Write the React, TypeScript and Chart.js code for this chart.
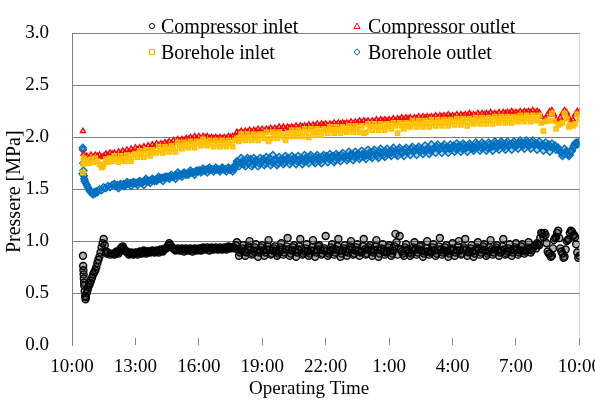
import React, { useEffect, useRef } from "react";
import { Chart, registerables } from "chart.js";

Chart.register(...registerables);

// ---- categories / labels ----
const SERIES_NAMES = ["Compressor inlet", "Compressor outlet", "Borehole inlet", "Borehole outlet"];
const SERIES_COLORS = ["#000000", "#ff0000", "#ffc000", "#0070c0"];
const SERIES_FILLS = ["rgba(0,0,0,0.3)", "rgba(255,0,0,0.25)", "rgba(255,192,0,0.8)", "rgba(0,112,192,0.35)"];
const Y_TITLE = "Pressere [MPa]";
const X_TITLE = "Operating Time";
const START_CLOCK_HOUR = 10; // x = hours elapsed since 10:00
const X_MAX_HOURS = 24;
const X_TICK_STEP_HOURS = 3;
const Y_MIN = 0;
const Y_MAX = 3;
const Y_TICK_STEP = 0.5;

// regular logging grids (hours since 10:00)
const GRID_START_HOUR = 2.0; // *Main arrays: 2.0, 2.1, ... 24.0
const GRID_MID_START_HOUR = 2.05; // *Mid arrays: 2.05, 2.15, ... 23.95
const GRID_STEP_HOUR = 0.1;

// ---- start-up transient (irregular times) ----
const compInletStartHours = [0.52, 0.53, 0.54, 0.55, 0.56, 0.57, 0.58, 0.60, 0.62, 0.64, 0.66, 0.70, 0.74, 0.78, 0.82, 0.86, 0.90, 0.95, 1.00, 1.05, 1.10, 1.15, 1.20, 1.25, 1.30, 1.35, 1.40, 1.45, 1.50, 1.55, 1.60, 1.65, 1.70, 1.80, 1.90];
const compInletStartValues = [0.86, 0.76, 0.72, 0.68, 0.64, 0.60, 0.57, 0.52, 0.47, 0.44, 0.46, 0.50, 0.53, 0.56, 0.58, 0.60, 0.62, 0.65, 0.68, 0.70, 0.72, 0.75, 0.79, 0.82, 0.85, 0.89, 0.94, 0.98, 1.02, 0.96, 0.90, 0.88, 0.89, 0.87, 0.88];

const compOutletStartHours = [0.52, 0.55, 0.60, 0.70, 0.80, 0.90, 1.00, 1.10, 1.20, 1.30, 1.40, 1.50, 1.60, 1.70, 1.80, 1.90];
const compOutletStartValues = [2.06, 1.84, 1.80, 1.82, 1.80, 1.83, 1.81, 1.83, 1.82, 1.83, 1.81, 1.82, 1.84, 1.83, 1.85, 1.84];

const boreInletStartHours = [0.52, 0.53, 0.55, 0.60, 0.70, 0.80, 0.90, 1.00, 1.10, 1.20, 1.30, 1.40, 1.45, 1.50, 1.60, 1.70, 1.80, 1.90];
const boreInletStartValues = [1.66, 1.74, 1.80, 1.77, 1.78, 1.75, 1.79, 1.76, 1.80, 1.77, 1.74, 1.71, 1.72, 1.74, 1.79, 1.76, 1.80, 1.77];

const boreOutletStartHours = [0.50, 0.51, 0.52, 0.53, 0.54, 0.56, 0.58, 0.60, 0.65, 0.70, 0.75, 0.80, 0.85, 0.90, 0.95, 1.00, 1.05, 1.10, 1.15, 1.20, 1.30, 1.40, 1.50, 1.60, 1.70, 1.80, 1.90];
const boreOutletStartValues = [1.65, 1.90, 1.88, 1.75, 1.68, 1.63, 1.60, 1.58, 1.56, 1.54, 1.52, 1.50, 1.48, 1.47, 1.46, 1.45, 1.47, 1.46, 1.48, 1.47, 1.50, 1.49, 1.52, 1.51, 1.53, 1.52, 1.54];

// ---- main logging (2.0 h .. 24.0 h, one row per hour) ----
const compInletMain = [
  0.87, 0.90, 0.88, 0.93, 0.95, 0.91, 0.90, 0.87, 0.89, 0.87,
  0.89, 0.87, 0.90, 0.88, 0.91, 0.88, 0.90, 0.89, 0.91, 0.89,
  0.91, 0.89, 0.92, 0.90, 0.93, 0.94, 0.98, 0.94, 0.93, 0.91,
  0.93, 0.91, 0.93, 0.90, 0.93, 0.91, 0.93, 0.90, 0.93, 0.91,
  0.93, 0.91, 0.94, 0.92, 0.94, 0.91, 0.94, 0.92, 0.94, 0.92,
  0.94, 0.92, 0.94, 0.92, 0.95, 0.93, 0.94, 0.93, 0.99, 0.86,
  0.91, 0.96, 0.86, 0.92, 1.00, 0.87, 0.90, 0.97, 0.85, 0.91,
  0.96, 0.86, 0.92, 1.01, 0.87, 0.91, 0.95, 0.86, 0.90, 0.98,
  0.87, 0.92, 1.03, 0.86, 0.91, 0.96, 0.85, 0.92, 1.02, 0.87,
  0.90, 0.97, 0.86, 0.91, 1.01, 0.85, 0.92, 0.96, 0.87, 0.91,
  1.05, 0.86, 0.90, 0.97, 0.87, 0.92, 1.02, 0.85, 0.91, 0.96,
  0.86, 0.92, 1.00, 0.87, 0.91, 0.97, 0.86, 0.90, 1.02, 0.87,
  0.92, 0.96, 0.86, 0.91, 1.01, 0.85, 0.92, 0.97, 0.87, 0.90,
  0.96, 0.86, 0.91, 1.07, 0.87, 1.05, 0.90, 0.86, 0.97, 0.92,
  0.86, 0.91, 0.99, 0.87, 0.92, 0.96, 0.85, 0.90, 1.00, 0.87,
  0.91, 0.97, 0.86, 0.92, 1.03, 0.87, 0.91, 0.96, 0.85, 0.92,
  0.98, 0.86, 0.91, 1.00, 0.87, 0.92, 1.02, 0.86, 0.90, 0.96,
  0.85, 0.91, 0.99, 0.87, 0.92, 0.97, 0.86, 0.90, 1.01, 0.87,
  0.92, 0.96, 0.86, 0.91, 1.02, 0.87, 0.90, 0.97, 0.86, 0.92,
  0.98, 0.87, 0.91, 0.97, 0.88, 0.92, 0.99, 0.89, 0.93, 0.96,
  0.98, 0.96, 1.08, 1.04, 1.06, 0.90, 0.88, 0.86, 1.01, 1.04,
  1.10, 0.93, 0.88, 0.85, 1.00, 1.02, 1.10, 1.05, 1.04, 0.89,
  0.86,
];
const compInletMid = [
  0.88, 0.89, 0.90, 0.94, 0.93, 0.90, 0.88, 0.88, 0.88, 0.88,
  0.88, 0.89, 0.89, 0.89, 0.90, 0.89, 0.90, 0.90, 0.90, 0.90,
  0.90, 0.91, 0.91, 0.92, 0.93, 0.96, 0.96, 0.94, 0.92, 0.92,
  0.92, 0.92, 0.92, 0.92, 0.92, 0.92, 0.92, 0.92, 0.92, 0.92,
  0.92, 0.93, 0.93, 0.93, 0.93, 0.93, 0.93, 0.93, 0.93, 0.93,
  0.93, 0.93, 0.93, 0.94, 0.94, 0.94, 0.94, 0.96, 0.92, 0.89,
  0.93, 0.90, 0.89, 0.95, 0.92, 0.88, 0.94, 0.91, 0.89, 0.94,
  0.91, 0.89, 0.95, 0.92, 0.88, 0.93, 0.90, 0.88, 0.94, 0.92,
  0.89, 0.95, 0.92, 0.88, 0.94, 0.91, 0.89, 0.95, 0.92, 0.88,
  0.93, 0.90, 0.88, 0.94, 0.91, 0.89, 0.95, 0.92, 0.88, 0.93,
  0.91, 0.88, 0.94, 0.92, 0.89, 0.95, 0.91, 0.88, 0.93, 0.90,
  0.89, 0.95, 0.92, 0.88, 0.94, 0.91, 0.89, 0.95, 0.92, 0.88,
  0.94, 0.91, 0.89, 0.95, 0.92, 0.88, 0.93, 0.90, 0.89, 0.94,
  0.91, 0.88, 0.95, 0.99, 0.93, 0.92, 0.88, 0.94, 0.91, 0.89,
  0.88, 0.94, 0.92, 0.89, 0.95, 0.91, 0.88, 0.93, 0.90, 0.89,
  0.94, 0.91, 0.88, 0.95, 0.92, 0.89, 0.94, 0.90, 0.88, 0.93,
  0.92, 0.89, 0.95, 0.91, 0.88, 0.94, 0.92, 0.89, 0.93, 0.90,
  0.88, 0.94, 0.92, 0.89, 0.95, 0.91, 0.88, 0.94, 0.92, 0.89,
  0.94, 0.91, 0.89, 0.95, 0.92, 0.88, 0.93, 0.91, 0.89, 0.94,
  0.92, 0.89, 0.95, 0.91, 0.90, 0.94, 0.92, 0.91, 0.95, 0.93,
  0.97, 1.03, 1.07, 1.08, 0.98, 0.88, 0.85, 0.93, 1.03, 1.08,
  1.03, 0.90, 0.84, 0.92, 1.01, 1.08, 1.09, 1.06, 0.97, 0.84,
];

const compOutletMain = [
  1.85, 1.83, 1.86, 1.84, 1.87, 1.85, 1.88, 1.86, 1.89, 1.87,
  1.90, 1.88, 1.90, 1.89, 1.91, 1.89, 1.92, 1.90, 1.93, 1.91,
  1.94, 1.92, 1.94, 1.93, 1.95, 1.94, 1.96, 1.94, 1.97, 1.95,
  1.98, 1.96, 1.98, 1.97, 1.99, 1.98, 2.00, 1.98, 2.01, 1.99,
  2.01, 1.99, 2.01, 2.00, 2.01, 1.99, 2.00, 1.99, 2.00, 1.99,
  2.00, 1.99, 2.00, 1.99, 2.01, 2.00, 2.01, 2.00, 2.05, 2.04,
  2.06, 2.04, 2.06, 2.05, 2.07, 2.05, 2.07, 2.06, 2.08, 2.06,
  2.08, 2.06, 2.08, 2.07, 2.09, 2.07, 2.09, 2.08, 2.10, 2.08,
  2.10, 2.08, 2.10, 2.09, 2.10, 2.09, 2.11, 2.09, 2.11, 2.10,
  2.11, 2.10, 2.12, 2.10, 2.12, 2.11, 2.13, 2.11, 2.13, 2.12,
  2.13, 2.11, 2.13, 2.12, 2.14, 2.12, 2.14, 2.13, 2.14, 2.13,
  2.14, 2.13, 2.15, 2.13, 2.15, 2.14, 2.16, 2.14, 2.16, 2.15,
  2.16, 2.14, 2.16, 2.15, 2.17, 2.15, 2.17, 2.16, 2.17, 2.16,
  2.17, 2.16, 2.18, 2.16, 2.18, 2.17, 2.19, 2.17, 2.19, 2.18,
  2.19, 2.17, 2.19, 2.18, 2.20, 2.18, 2.20, 2.19, 2.20, 2.19,
  2.20, 2.19, 2.21, 2.19, 2.21, 2.20, 2.21, 2.20, 2.22, 2.20,
  2.21, 2.20, 2.22, 2.20, 2.22, 2.21, 2.22, 2.21, 2.23, 2.21,
  2.22, 2.21, 2.23, 2.21, 2.23, 2.22, 2.23, 2.22, 2.24, 2.22,
  2.23, 2.22, 2.24, 2.22, 2.24, 2.23, 2.24, 2.23, 2.25, 2.23,
  2.24, 2.23, 2.25, 2.23, 2.25, 2.24, 2.25, 2.24, 2.26, 2.24,
  2.25, 2.24, 2.20, 2.15, 2.18, 2.22, 2.25, 2.26, 2.22, 2.17,
  2.15, 2.19, 2.23, 2.26, 2.24, 2.19, 2.15, 2.17, 2.22, 2.25,
  2.24,
];

const boreInletMain = [
  1.82, 1.79, 1.76, 1.82, 1.79, 1.77, 1.83, 1.80, 1.77, 1.83,
  1.84, 1.81, 1.87, 1.84, 1.81, 1.88, 1.85, 1.82, 1.88, 1.85,
  1.85, 1.91, 1.88, 1.85, 1.91, 1.89, 1.86, 1.92, 1.89, 1.86,
  1.95, 1.92, 1.89, 1.95, 1.92, 1.90, 1.96, 1.93, 1.90, 1.96,
  1.95, 1.92, 1.98, 1.95, 1.92, 1.97, 1.94, 1.91, 1.97, 1.94,
  1.91, 1.97, 1.94, 1.91, 1.97, 1.94, 1.91, 1.97, 1.99, 1.96,
  2.03, 2.00, 1.97, 2.03, 2.00, 1.97, 2.03, 2.00, 1.97, 2.03,
  2.02, 1.99, 2.05, 1.96, 1.99, 2.05, 2.02, 1.99, 2.05, 2.02,
  2.01, 1.97, 2.04, 2.01, 2.07, 2.04, 2.01, 2.07, 2.04, 2.01,
  2.08, 2.05, 2.00, 2.08, 2.05, 2.02, 2.08, 2.05, 2.02, 2.08,
  2.07, 2.04, 2.10, 2.07, 2.04, 2.10, 2.07, 2.04, 2.10, 2.07,
  2.05, 2.11, 2.08, 2.05, 2.11, 2.08, 2.05, 2.11, 2.04, 2.05,
  2.13, 2.10, 2.07, 2.13, 2.10, 2.07, 2.13, 2.10, 2.07, 2.13,
  2.11, 2.08, 2.14, 2.11, 2.04, 2.14, 2.11, 2.08, 2.14, 2.11,
  2.10, 2.16, 2.13, 2.10, 2.16, 2.13, 2.10, 2.16, 2.13, 2.10,
  2.17, 2.14, 2.11, 2.17, 2.14, 2.11, 2.17, 2.14, 2.11, 2.17,
  2.15, 2.12, 2.18, 2.15, 2.12, 2.18, 2.15, 2.11, 2.18, 2.15,
  2.13, 2.19, 2.16, 2.13, 2.19, 2.16, 2.13, 2.19, 2.16, 2.13,
  2.20, 2.17, 2.14, 2.20, 2.17, 2.14, 2.20, 2.17, 2.14, 2.20,
  2.18, 2.15, 2.21, 2.18, 2.15, 2.21, 2.18, 2.15, 2.21, 2.18,
  2.16, 2.21, 2.14, 2.06, 2.15, 2.16, 2.16, 2.23, 2.16, 2.08,
  2.12, 2.13, 2.14, 2.23, 2.18, 2.10, 2.12, 2.11, 2.13, 2.22,
  2.18,
];

const boreOutletMain = [
  1.55, 1.53, 1.51, 1.55, 1.53, 1.53, 1.57, 1.55, 1.53, 1.57,
  1.56, 1.54, 1.58, 1.56, 1.54, 1.60, 1.58, 1.56, 1.60, 1.58,
  1.58, 1.62, 1.60, 1.58, 1.62, 1.62, 1.60, 1.64, 1.62, 1.60,
  1.66, 1.64, 1.62, 1.66, 1.64, 1.64, 1.68, 1.66, 1.64, 1.68,
  1.68, 1.66, 1.70, 1.68, 1.66, 1.71, 1.69, 1.67, 1.71, 1.69,
  1.67, 1.71, 1.69, 1.67, 1.71, 1.69, 1.67, 1.71, 1.77, 1.72,
  1.80, 1.76, 1.72, 1.80, 1.76, 1.72, 1.80, 1.76, 1.72, 1.80,
  1.77, 1.73, 1.81, 1.77, 1.73, 1.83, 1.77, 1.73, 1.81, 1.77,
  1.74, 1.82, 1.78, 1.74, 1.82, 1.78, 1.74, 1.82, 1.78, 1.74,
  1.83, 1.79, 1.75, 1.83, 1.79, 1.75, 1.83, 1.79, 1.75, 1.83,
  1.80, 1.76, 1.84, 1.80, 1.76, 1.84, 1.81, 1.77, 1.85, 1.81,
  1.78, 1.86, 1.82, 1.78, 1.86, 1.82, 1.79, 1.87, 1.83, 1.79,
  1.88, 1.84, 1.80, 1.88, 1.84, 1.80, 1.89, 1.85, 1.81, 1.89,
  1.86, 1.82, 1.90, 1.86, 1.82, 1.90, 1.86, 1.82, 1.90, 1.86,
  1.83, 1.91, 1.87, 1.83, 1.91, 1.87, 1.84, 1.92, 1.88, 1.84,
  1.93, 1.89, 1.85, 1.93, 1.89, 1.85, 1.93, 1.89, 1.85, 1.93,
  1.90, 1.86, 1.94, 1.90, 1.86, 1.94, 1.90, 1.86, 1.94, 1.90,
  1.87, 1.95, 1.91, 1.87, 1.95, 1.91, 1.87, 1.95, 1.91, 1.87,
  1.96, 1.92, 1.88, 1.96, 1.92, 1.88, 1.96, 1.92, 1.88, 1.96,
  1.93, 1.89, 1.97, 1.93, 1.89, 1.97, 1.93, 1.89, 1.97, 1.93,
  1.88, 1.96, 1.92, 1.87, 1.95, 1.91, 1.86, 1.94, 1.90, 1.88,
  1.90, 1.86, 1.82, 1.89, 1.86, 1.82, 1.86, 1.90, 1.94, 1.93,
  1.96,
];
const boreOutletMid = [
  1.53, 1.54, 1.54, 1.54, 1.55, 1.55, 1.55, 1.56, 1.56, 1.56,
  1.56, 1.57, 1.57, 1.57, 1.58, 1.58, 1.58, 1.59, 1.59, 1.59,
  1.60, 1.60, 1.61, 1.61, 1.61, 1.62, 1.62, 1.62, 1.63, 1.63,
  1.64, 1.64, 1.65, 1.65, 1.65, 1.66, 1.66, 1.66, 1.67, 1.67,
  1.68, 1.68, 1.68, 1.69, 1.69, 1.69, 1.69, 1.69, 1.69, 1.69,
  1.69, 1.70, 1.69, 1.70, 1.69, 1.70, 1.69, 1.74, 1.76, 1.75,
  1.77, 1.74, 1.78, 1.75, 1.79, 1.74, 1.77, 1.78, 1.75, 1.77,
  1.79, 1.75, 1.78, 1.80, 1.76, 1.78, 1.79, 1.75, 1.78, 1.79,
  1.76, 1.79, 1.80, 1.77, 1.79, 1.80, 1.77, 1.78, 1.80, 1.77,
  1.80, 1.78, 1.81, 1.79, 1.77, 1.81, 1.80, 1.78, 1.81, 1.79,
  1.82, 1.79, 1.81, 1.82, 1.78, 1.82, 1.80, 1.83, 1.81, 1.82,
  1.80, 1.83, 1.84, 1.81, 1.83, 1.84, 1.81, 1.84, 1.82, 1.83,
  1.85, 1.82, 1.86, 1.84, 1.82, 1.86, 1.85, 1.83, 1.86, 1.84,
  1.84, 1.87, 1.86, 1.84, 1.88, 1.86, 1.85, 1.88, 1.86, 1.87,
  1.89, 1.86, 1.88, 1.89, 1.86, 1.89, 1.87, 1.88, 1.90, 1.87,
  1.88, 1.90, 1.91, 1.88, 1.90, 1.91, 1.88, 1.91, 1.89, 1.90,
  1.92, 1.89, 1.91, 1.92, 1.89, 1.92, 1.90, 1.91, 1.92, 1.89,
  1.90, 1.93, 1.92, 1.90, 1.93, 1.92, 1.90, 1.93, 1.91, 1.92,
  1.94, 1.91, 1.93, 1.94, 1.91, 1.94, 1.92, 1.93, 1.94, 1.91,
  1.92, 1.94, 1.95, 1.92, 1.94, 1.95, 1.92, 1.95, 1.93, 1.94,
  1.93, 1.91, 1.93, 1.92, 1.90, 1.93, 1.91, 1.90, 1.92, 1.90,
  1.88, 1.85, 1.84, 1.86, 1.84, 1.83, 1.87, 1.92, 1.95, 1.94,
];

const FONT_FAMILY = "'Liberation Serif', 'Times New Roman', serif";

function gridPoints(startHour: number, values: number[]) {
  return values.map((v, i) => ({ x: Math.round((startHour + i * GRID_STEP_HOUR) * 1000) / 1000, y: v }));
}

function toPoints(startHours: number[], startValues: number[], main: number[], mid: number[] = []) {
  return [
    ...startHours.map((h, i) => ({ x: h, y: startValues[i] })),
    ...gridPoints(GRID_START_HOUR, main),
    ...gridPoints(GRID_MID_START_HOUR, mid),
  ];
}

const POINT_STYLES = ["circle", "triangle", "rect", "rectRot"] as const;
const POINT_RADII = [3.5, 3, 3, 3.5];
const POINT_BORDER = [1.4, 1.3, 1.5, 1.4];
const DRAW_ORDER = [2, 1, 0, 3];

function LegendMarker({ index }: { index: number }) {
  const c = SERIES_COLORS[index];
  let shape: React.ReactNode;
  if (index === 0) shape = <circle cx={5} cy={5} r={2.5} fill="none" stroke={c} strokeWidth={1} />;
  else if (index === 1) shape = <polygon points="5,2 8,7.5 2,7.5" fill="none" stroke={c} strokeWidth={1} />;
  else if (index === 2) shape = <rect x={2.5} y={2.5} width={5} height={5} fill="none" stroke={c} strokeWidth={1.2} />;
  else shape = <polygon points="5,1.8 8,5 5,8.2 2,5" fill="none" stroke={c} strokeWidth={1} />;
  return (
    <svg width={10} height={10} style={{ display: "block" }}>
      {shape}
    </svg>
  );
}

export default function App() {
  const canvasRef = useRef<HTMLCanvasElement>(null);

  useEffect(() => {
    const canvas = canvasRef.current;
    if (!canvas) return;
    const seriesPoints = [
      toPoints(compInletStartHours, compInletStartValues, compInletMain, compInletMid),
      toPoints(compOutletStartHours, compOutletStartValues, compOutletMain),
      toPoints(boreInletStartHours, boreInletStartValues, boreInletMain),
      toPoints(boreOutletStartHours, boreOutletStartValues, boreOutletMain, boreOutletMid),
    ];
    const chart = new Chart(canvas, {
      type: "scatter",
      data: {
        datasets: SERIES_NAMES.map((name, i) => ({
          label: name,
          data: seriesPoints[i],
          order: DRAW_ORDER[i],
          pointStyle: POINT_STYLES[i],
          pointRadius: POINT_RADII[i],
          pointBorderWidth: POINT_BORDER[i],
          borderColor: SERIES_COLORS[i],
          backgroundColor: SERIES_FILLS[i],
          pointBackgroundColor: SERIES_FILLS[i],
          pointBorderColor: SERIES_COLORS[i],
          showLine: false,
        })),
      },
      options: {
        animation: false,
        responsive: false,
        maintainAspectRatio: false,
        devicePixelRatio: 1,
        layout: { padding: { left: 0, right: 39, top: 11, bottom: 0 } },
        plugins: {
          legend: { display: false },
          tooltip: { enabled: false },
        },
        scales: {
          x: {
            type: "linear",
            min: 0,
            max: X_MAX_HOURS,
            afterFit: (scale: any) => {
              scale.height = 59;
            },
            border: { display: false },
            grid: {
              drawOnChartArea: true,
              drawTicks: true,
              tickLength: -7,
              tickColor: "#8a8a8a",
              color: (ctx: any) => (ctx.tick && ctx.tick.value === X_MAX_HOURS ? "#d6d6d6" : "rgba(0,0,0,0)"),
            },
            ticks: {
              stepSize: X_TICK_STEP_HOURS,
              padding: 19,
              color: "#000",
              maxRotation: 0,
              autoSkip: false,
              font: { family: FONT_FAMILY, size: 19, lineHeight: 1.1 },
              callback: (v: any) => `${(START_CLOCK_HOUR + Number(v)) % 24}:00`,
            },
            title: {
              display: true,
              text: X_TITLE + "       ",
              color: "#000",
              font: { family: FONT_FAMILY, size: 19, lineHeight: 1.2 },
              padding: { top: 0, bottom: 4 },
            },
          },
          y: {
            min: Y_MIN,
            max: Y_MAX,
            afterFit: (scale: any) => {
              scale.width = 72;
            },
            border: { display: true, color: "#808080", width: 1 },
            grid: {
              drawTicks: false,
              color: (ctx: any) => (ctx.tick && ctx.tick.value === 0 ? "rgba(0,0,0,0)" : "#808080"),
              lineWidth: 1,
            },
            ticks: {
              stepSize: Y_TICK_STEP,
              padding: 23,
              color: "#000",
              font: { family: FONT_FAMILY, size: 19, lineHeight: 1.1 },
              callback: (v: any) => Number(v).toFixed(1),
            },
            title: {
              display: true,
              text: Y_TITLE + " ",
              color: "#000",
              font: { family: FONT_FAMILY, size: 20, lineHeight: 1.2 },
              padding: { top: 3, bottom: 0 },
            },
          },
        },
      },
    });
    return () => chart.destroy();
  }, []);

  const legendCols = [152, 357];
  const legendTextX = [161, 368];
  const legendRowTop = [13, 39];

  return (
    <div
      style={{
        position: "fixed",
        left: 0,
        top: 0,
        width: 595,
        height: 404,
        overflow: "hidden",
        background: "#ffffff",
      }}
    >
      <canvas ref={canvasRef} width={620} height={404} style={{ display: "block", width: 620, height: 404 }} />
      {SERIES_NAMES.map((name, i) => {
        const col = i % 2;
        const row = Math.floor(i / 2);
        return (
          <React.Fragment key={name}>
            <div style={{ position: "absolute", left: legendCols[col] - 5, top: legendRowTop[row] + 8 }}>
              <LegendMarker index={i} />
            </div>
            <div
              style={{
                position: "absolute",
                left: legendTextX[col],
                top: legendRowTop[row],
                fontFamily: FONT_FAMILY,
                fontSize: 20,
                lineHeight: "26px",
                color: "#000",
                whiteSpace: "nowrap",
              }}
            >
              {name}
            </div>
          </React.Fragment>
        );
      })}
    </div>
  );
}
